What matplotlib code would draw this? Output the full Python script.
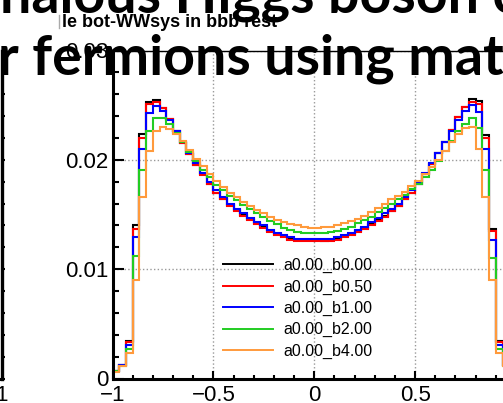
import numpy as np
import matplotlib

matplotlib.use("Agg")
import matplotlib.pyplot as plt
from matplotlib.lines import Line2D

# cos(theta) of bottom vs. WW system, 60 bins on [-1, 1], normalised per sample
bin_lo, bin_hi, n_bins = -1.0, 1.0, 60

samples = ["a0.00_b0.00", "a0.00_b0.50", "a0.00_b1.00", "a0.00_b2.00", "a0.00_b4.00"]
colors = ["#000000", "#ff0000", "#0000ff", "#22cc22", "#ff9a3c"]

b000 = [0.0007, 0.0012, 0.0034, 0.0140, 0.0224, 0.0253, 0.0255, 0.0247, 0.0237, 0.0226,
        0.0215, 0.0205, 0.0195, 0.0187, 0.0178, 0.0170, 0.0164, 0.0159, 0.0154, 0.0150,
        0.0146, 0.0142, 0.0139, 0.0135, 0.0132, 0.0130, 0.0128, 0.0127, 0.0127, 0.0127,
        0.0127, 0.0126, 0.0127, 0.0128, 0.0130, 0.0132, 0.0135, 0.0138, 0.0141, 0.0145,
        0.0149, 0.0153, 0.0158, 0.0164, 0.0170, 0.0178, 0.0187, 0.0196, 0.0206, 0.0216,
        0.0227, 0.0239, 0.0248, 0.0256, 0.0254, 0.0223, 0.0137, 0.0034, 0.0012, 0.0007]
b050 = [0.0007, 0.0012, 0.0033, 0.0137, 0.0220, 0.0251, 0.0253, 0.0247, 0.0237, 0.0226,
        0.0215, 0.0205, 0.0195, 0.0186, 0.0178, 0.0170, 0.0164, 0.0158, 0.0153, 0.0149,
        0.0145, 0.0141, 0.0138, 0.0134, 0.0131, 0.0129, 0.0127, 0.0126, 0.0126, 0.0126,
        0.0126, 0.0126, 0.0126, 0.0127, 0.0129, 0.0131, 0.0134, 0.0137, 0.0140, 0.0144,
        0.0148, 0.0153, 0.0158, 0.0164, 0.0170, 0.0178, 0.0187, 0.0196, 0.0206, 0.0216,
        0.0227, 0.0239, 0.0248, 0.0253, 0.0251, 0.0220, 0.0135, 0.0033, 0.0012, 0.0007]
b100 = [0.0007, 0.0012, 0.0031, 0.0129, 0.0210, 0.0243, 0.0249, 0.0245, 0.0236, 0.0226,
        0.0216, 0.0206, 0.0197, 0.0188, 0.0180, 0.0172, 0.0166, 0.0160, 0.0155, 0.0151,
        0.0147, 0.0143, 0.0140, 0.0136, 0.0133, 0.0131, 0.0129, 0.0128, 0.0128, 0.0128,
        0.0128, 0.0128, 0.0128, 0.0129, 0.0131, 0.0133, 0.0136, 0.0139, 0.0143, 0.0147,
        0.0151, 0.0155, 0.0160, 0.0166, 0.0172, 0.0180, 0.0188, 0.0197, 0.0206, 0.0216,
        0.0226, 0.0236, 0.0245, 0.0250, 0.0244, 0.0210, 0.0127, 0.0031, 0.0012, 0.0007]
b200 = [0.0007, 0.0011, 0.0027, 0.0112, 0.0191, 0.0226, 0.0238, 0.0238, 0.0233, 0.0225,
        0.0216, 0.0207, 0.0199, 0.0191, 0.0184, 0.0177, 0.0172, 0.0167, 0.0163, 0.0159,
        0.0155, 0.0151, 0.0148, 0.0144, 0.0141, 0.0138, 0.0136, 0.0134, 0.0133, 0.0133,
        0.0133, 0.0133, 0.0134, 0.0135, 0.0137, 0.0139, 0.0142, 0.0145, 0.0148, 0.0152,
        0.0156, 0.0160, 0.0164, 0.0168, 0.0173, 0.0178, 0.0184, 0.0191, 0.0199, 0.0208,
        0.0217, 0.0226, 0.0233, 0.0238, 0.0229, 0.0191, 0.0110, 0.0027, 0.0011, 0.0007]
b400 = [0.0006, 0.0011, 0.0023, 0.0090, 0.0166, 0.0208, 0.0226, 0.0230, 0.0228, 0.0224,
        0.0217, 0.0209, 0.0201, 0.0194, 0.0187, 0.0181, 0.0175, 0.0170, 0.0166, 0.0161,
        0.0158, 0.0154, 0.0151, 0.0148, 0.0145, 0.0143, 0.0141, 0.0140, 0.0139, 0.0138,
        0.0138, 0.0139, 0.0139, 0.0140, 0.0142, 0.0144, 0.0146, 0.0149, 0.0152, 0.0156,
        0.0160, 0.0164, 0.0167, 0.0171, 0.0176, 0.0181, 0.0187, 0.0193, 0.0200, 0.0208,
        0.0216, 0.0224, 0.0229, 0.0230, 0.0210, 0.0166, 0.0090, 0.0023, 0.0011, 0.0006]

series = [b000, b050, b100, b200, b400]

y_ticks = [0, 0.01, 0.02, 0.03]
y_ticklabels = ["0", "0.01", "0.02", "0.03"]
x_ticks = [-1, -0.5, 0, 0.5, 1]
x_ticklabels = ["\u22121", "\u22120.5", "0", "0.5", "1"]

hist_title = "le bot-WWsys in bbb rest"
slide_lines = ["nalous Higgs boson couplings", "r fermions using matrix"]

W, H = 503, 403
fig = plt.figure(figsize=(W / 100, H / 100), dpi=100)


def fx(px):
    return px / W


def fy(py):
    # pixel row from the top -> figure fraction
    return 1 - py / H


label_font = dict(family="Liberation Sans", size=16)

# main pad
x0, x1 = 112.5, 516.0
ytop, ybot = 50.5, 378.5
ax = fig.add_axes([fx(x0), fy(ybot), fx(x1 - x0), (ybot - ytop) / H])
edges = np.linspace(bin_lo, bin_hi, n_bins + 1)
for vals, col in zip(series, colors):
    ax.stairs(vals, edges, color=col, lw=1.5, baseline=0)

ax.set_xlim(bin_lo, bin_hi)
ax.set_ylim(0, 0.03)
ax.set_xticks(x_ticks)
ax.set_xticklabels(x_ticklabels, fontdict=label_font)
ax.set_yticks(y_ticks)
ax.set_yticklabels(y_ticklabels, fontdict=label_font)
ax.set_xticks(np.arange(-1, 1.001, 0.1), minor=True)
ax.set_yticks(np.arange(0, 0.0301, 0.002), minor=True)
ax.tick_params(axis="y", which="major", direction="in", length=8, width=1.5, pad=3)
ax.tick_params(axis="y", which="minor", direction="in", length=4.5, width=1.5)
ax.tick_params(axis="x", which="major", direction="in", length=6, width=1.5, pad=5)
ax.tick_params(axis="x", which="minor", direction="in", length=3, width=1.5)
ax.grid(True, which="major", ls=":", color="#999999", lw=1)
ax.set_axisbelow(True)
for side in ("left", "bottom"):
    ax.spines[side].set_linewidth(2.2)
for side in ("top", "right"):
    ax.spines[side].set_linewidth(1.0)

handles = [Line2D([], [], color=c, lw=1.4) for c in colors]
ax.legend(handles, samples, loc="upper left", frameon=False,
          bbox_to_anchor=(fx(223), fy(258)), bbox_transform=fig.transFigure,
          borderpad=0, borderaxespad=0, handlelength=3.1, handletextpad=0.65,
          labelspacing=0.39, prop=dict(family="Liberation Sans", size=11.5))

# neighbouring pad, only its right edge falls inside the canvas
ax_l = fig.add_axes([fx(1.5 - 400), fy(ybot), fx(400), (ybot - ytop) / H])
ax_l.set_xlim(bin_lo, bin_hi)
ax_l.set_ylim(0, 0.03)
ax_l.set_xticks([1])
ax_l.set_xticklabels(["1"], fontdict=label_font)
ax_l.tick_params(axis="x", direction="in", length=0, pad=5)
ax_l.yaxis.tick_right()
ax_l.set_yticks([])
ax_l.set_yticks(np.arange(0, 0.0301, 0.002), minor=True)
ax_l.tick_params(axis="y", which="minor", direction="out", length=2, width=1.5)
ax_l.spines["right"].set_linewidth(2.4)
ax_l.spines["bottom"].set_linewidth(2.2)
ax_l.spines["top"].set_visible(False)

# histogram title box text
fig.text(fx(62), fy(27), hist_title, family="Liberation Sans", weight="bold",
         size=13, va="baseline", ha="left")
fig.add_artist(Line2D([fx(58.5), fx(58.5)], [fy(15), fy(28)], color="#aaaaaa", lw=1))

# slide heading over the canvas
fig.text(fx(0), fy(13), slide_lines[0], family="Lato", weight="bold",
         size=40, va="baseline", ha="left", zorder=10)
fig.text(fx(-2), fy(75), slide_lines[1], family="Lato", weight="bold",
         size=40, va="baseline", ha="left", zorder=10)

fig.savefig("out.png", dpi=100)
